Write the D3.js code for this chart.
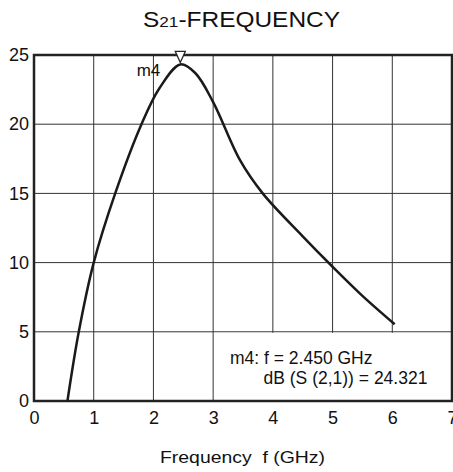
<!DOCTYPE html>
<html>
<head>
<meta charset="utf-8">
<script src="https://cdn.jsdelivr.net/npm/d3@7"></script>
<style>
  body { margin: 0; background: #fff; }
  text { font-family: "Liberation Sans", Arial, sans-serif; fill: #111; }
</style>
</head>
<body>
<div id="chart"></div>
<script>
// S21 curve
var freq = [0.56, 0.75, 1.0, 1.36, 1.8, 2.1, 2.45, 2.7, 3.0, 3.45, 3.83, 4.5, 5.0, 5.5, 6.04];
var s21  = [0, 5, 10, 15, 20, 22.6, 24.32, 23.7, 21.6, 17.4, 15, 11.9, 9.7, 7.6, 5.55];

var xTicks = [0, 1, 2, 3, 4, 5, 6, 7];
var yTicks = [0, 5, 10, 15, 20, 25];

var marker = { name: "m4", f: 2.45, db: 24.321 };

var W = 453, H = 472,
    plotLeft = 34, plotRight = 452, plotTop = 55, plotBottom = 401;

var svg = d3.select("#chart").append("svg")
    .attr("width", W)
    .attr("height", H);

var x = d3.scaleLinear().domain([0, 7]).range([plotLeft, plotRight]);
var y = d3.scaleLinear().domain([0, 25]).range([plotBottom, plotTop]);

// grid
var grid = svg.append("g").attr("stroke", "#333").attr("stroke-width", 1);
grid.selectAll(".vx")
    .data(xTicks.slice(1, -1))
    .enter().append("line")
    .attr("x1", function(d) { return x(d); })
    .attr("x2", function(d) { return x(d); })
    .attr("y1", plotTop).attr("y2", plotBottom);
grid.selectAll(".hy")
    .data(yTicks.slice(1, -1))
    .enter().append("line")
    .attr("y1", function(d) { return y(d); })
    .attr("y2", function(d) { return y(d); })
    .attr("x1", plotLeft).attr("x2", plotRight);

// readout box hides the grid under it
svg.append("rect")
    .attr("x", x(3) + 1)
    .attr("y", y(5) + 1)
    .attr("width", x(7) - x(3) - 2)
    .attr("height", y(0) - y(5) - 2)
    .attr("fill", "#fff");

// frame
svg.append("rect")
    .attr("x", plotLeft).attr("y", plotTop)
    .attr("width", plotRight - plotLeft).attr("height", plotBottom - plotTop)
    .attr("fill", "none")
    .attr("stroke", "#222")
    .attr("stroke-width", 2.5);

// axes (labels only)
var xAxis = svg.append("g")
    .attr("transform", "translate(0," + plotBottom + ")")
    .call(d3.axisBottom(x).tickValues(xTicks).tickSize(0).tickPadding(10).tickFormat(d3.format("d")));
var yAxis = svg.append("g")
    .attr("transform", "translate(" + plotLeft + ",0)")
    .call(d3.axisLeft(y).tickValues(yTicks).tickSize(0).tickPadding(5).tickFormat(d3.format("d")));
[xAxis, yAxis].forEach(function(a) {
    a.select(".domain").remove();
    a.selectAll("text")
        .attr("font-family", "Liberation Sans, Arial, sans-serif")
        .attr("font-size", 18)
        .attr("fill", "#111");
});

// curve
var pts = freq.map(function(f, i) { return [f, s21[i]]; });
var line = d3.line()
    .x(function(d) { return x(d[0]); })
    .y(function(d) { return y(d[1]); })
    .curve(d3.curveCatmullRom.alpha(0.5));
svg.append("path")
    .datum(pts)
    .attr("d", line)
    .attr("fill", "none")
    .attr("stroke", "#1a1a1a")
    .attr("stroke-width", 2.5)
    .attr("stroke-linejoin", "round");

// marker
var mx = x(marker.f), my = y(marker.db) - 2;
svg.append("path")
    .attr("d", "M" + mx + "," + my + "L" + (mx - 5) + "," + (my - 11) + "L" + (mx + 5) + "," + (my - 11) + "Z")
    .attr("fill", "#fff")
    .attr("stroke", "#222")
    .attr("stroke-width", 1.3);
svg.append("text")
    .attr("x", mx - 20)
    .attr("y", my + 14)
    .attr("text-anchor", "end")
    .attr("font-size", 17)
    .text(marker.name);

// readout
svg.append("text")
    .attr("x", 230).attr("y", 363.5)
    .attr("font-size", 17.5)
    .text(marker.name + ": f = " + marker.f.toFixed(3) + " GHz");
svg.append("text")
    .attr("x", 263.5).attr("y", 383.5)
    .attr("font-size", 17.5)
    .text("dB (S (2,1)) = " + marker.db.toFixed(3));

// title
var title = svg.append("text")
    .attr("x", 143).attr("y", 27)
    .attr("font-size", 22)
    .attr("textLength", 197)
    .attr("lengthAdjust", "spacingAndGlyphs");
title.append("tspan").text("S");
title.append("tspan").attr("font-size", 15.5).text("21");
title.append("tspan").text("-FREQUENCY");

// x title
svg.append("text")
    .attr("x", 160).attr("y", 463)
    .attr("font-size", 17)
    .attr("textLength", 165)
    .attr("lengthAdjust", "spacingAndGlyphs")
    .text("Frequency\u00a0\u00a0f (GHz)");
</script>
</body>
</html>
